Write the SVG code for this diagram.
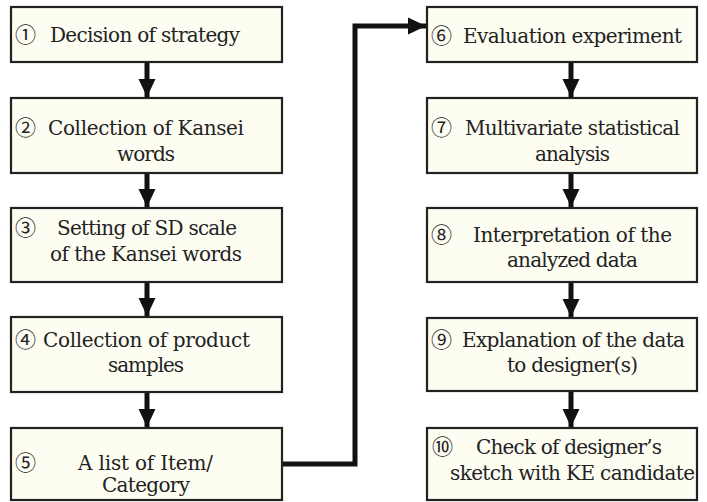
<svg xmlns="http://www.w3.org/2000/svg" width="707" height="502" viewBox="0 0 707 502">
<style>
.box{fill:#fdfdf2;stroke:#222;stroke-width:2.2}
.t{font-family:"DejaVu Serif","Liberation Serif",serif;font-size:20px;fill:#222}
.n{font-family:"Noto Sans CJK JP","DejaVu Sans",sans-serif;font-size:21px;fill:#222}
.c{fill:none;stroke:#111;stroke-width:5}
</style>
<defs>
<marker id="ah" markerUnits="userSpaceOnUse" markerWidth="20" markerHeight="20" viewBox="0 0 20 20" refX="18" refY="10" orient="auto">
<path d="M0,1.5 L18,10 L0,18.5 Z" fill="#111"/>
</marker>
</defs>
<rect width="707" height="502" fill="#fff"/>
<g id="connectors">
<line class="c" x1="147" y1="62" x2="147" y2="97" marker-end="url(#ah)"/>
<line class="c" x1="147" y1="173" x2="147" y2="207" marker-end="url(#ah)"/>
<line class="c" x1="147" y1="282" x2="147" y2="316" marker-end="url(#ah)"/>
<line class="c" x1="147" y1="392" x2="147" y2="427" marker-end="url(#ah)"/>
<line class="c" x1="571" y1="62" x2="571" y2="97" marker-end="url(#ah)"/>
<line class="c" x1="571" y1="173" x2="571" y2="207" marker-end="url(#ah)"/>
<line class="c" x1="571" y1="282" x2="571" y2="317" marker-end="url(#ah)"/>
<line class="c" x1="571" y1="391" x2="571" y2="427" marker-end="url(#ah)"/>
<polyline class="c" points="283,464 355,464 355,26 426,26" marker-end="url(#ah)"/>
</g>
<g id="n1"><rect class="box" x="11" y="7" width="271" height="55"/>
<text class="n" x="15" y="42">①</text><text class="t" x="50" y="42" textLength="190">Decision of strategy</text></g>
<g id="n2"><rect class="box" x="11" y="98" width="271" height="75"/>
<text class="n" x="15" y="135">②</text><text class="t" x="48" y="135" textLength="196">Collection of Kansei</text><text class="t" x="117" y="161" textLength="58">words</text></g>
<g id="n3"><rect class="box" x="11" y="208" width="271" height="74"/>
<text class="n" x="15" y="235">③</text><text class="t" x="57" y="235" textLength="180">Setting of SD scale</text><text class="t" x="50" y="261" textLength="192">of the Kansei words</text></g>
<g id="n4"><rect class="box" x="11" y="317" width="271" height="75"/>
<text class="n" x="15" y="347">④</text><text class="t" x="43" y="347" textLength="207">Collection of product</text><text class="t" x="108" y="372" textLength="76">samples</text></g>
<g id="n5"><rect class="box" x="11" y="428" width="271" height="72"/>
<text class="n" x="15" y="470">⑤</text><text class="t" x="78" y="470" textLength="135">A list of Item/</text><text class="t" x="102" y="492" textLength="88">Category</text></g>
<g id="n6"><rect class="box" x="427" y="7" width="270" height="55"/>
<text class="n" x="431" y="43">⑥</text><text class="t" x="463" y="43" textLength="219">Evaluation experiment</text></g>
<g id="n7"><rect class="box" x="427" y="98" width="270" height="75"/>
<text class="n" x="431" y="135">⑦</text><text class="t" x="465" y="135" textLength="215">Multivariate statistical</text><text class="t" x="535" y="161" textLength="75">analysis</text></g>
<g id="n8"><rect class="box" x="427" y="208" width="270" height="74"/>
<text class="n" x="431" y="242">⑧</text><text class="t" x="473" y="242" textLength="199">Interpretation of the</text><text class="t" x="507" y="267" textLength="131">analyzed data</text></g>
<g id="n9"><rect class="box" x="427" y="318" width="270" height="73"/>
<text class="n" x="431" y="347">⑨</text><text class="t" x="462" y="347" textLength="223">Explanation of the data</text><text class="t" x="507" y="372" textLength="131">to designer(s)</text></g>
<g id="n10"><rect class="box" x="427" y="428" width="270" height="72"/>
<text class="n" x="432" y="454">⑩</text><text class="t" x="476" y="454" textLength="186">Check of designer’s</text><text class="t" x="450" y="480" textLength="245">sketch with KE candidate</text></g>
</svg>
